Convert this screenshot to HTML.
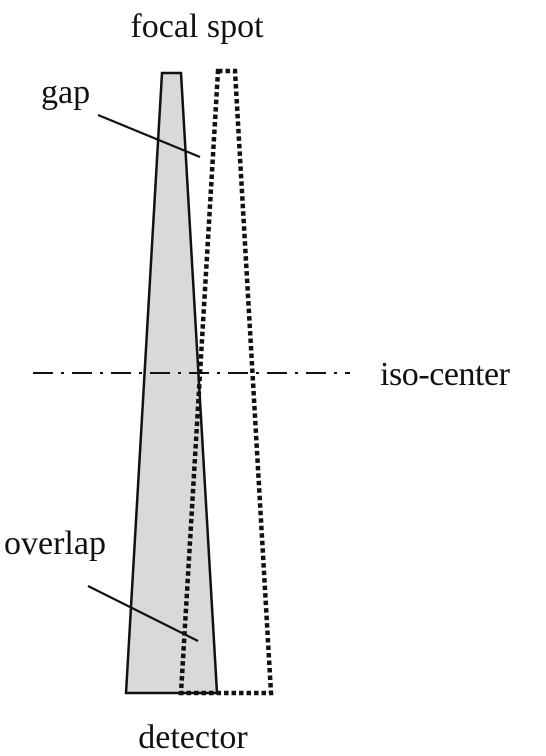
<!DOCTYPE html>
<html><head><meta charset="utf-8"><style>
body{margin:0;background:#fff;}
svg{display:block;}
text{font-family:"Liberation Serif",serif;font-size:34px;fill:#111;}
</style></head><body>
<svg width="546" height="756" viewBox="0 0 546 756">
<text x="197" y="37" text-anchor="middle">focal spot</text>
<polygon points="162,73 181,73 217,693 126,693" fill="#d9d9d9" stroke="#111" stroke-width="2.5"/>
<polygon points="218,71 235,71 271,693 181,693" fill="none" stroke="#111" stroke-width="4.5" stroke-dasharray="4.5,3"/>
<line x1="33" y1="373" x2="350" y2="373" stroke="#111" stroke-width="2" stroke-dasharray="20,8,3,8"/>
<text x="380" y="385" textLength="130">iso-center</text>
<text x="41" y="103">gap</text>
<line x1="98" y1="115" x2="200" y2="157" stroke="#111" stroke-width="2.2"/>
<text x="4" y="554">overlap</text>
<line x1="88" y1="586" x2="198" y2="641" stroke="#111" stroke-width="2.2"/>
<text x="193" y="748" text-anchor="middle">detector</text>
</svg>
</body></html>
